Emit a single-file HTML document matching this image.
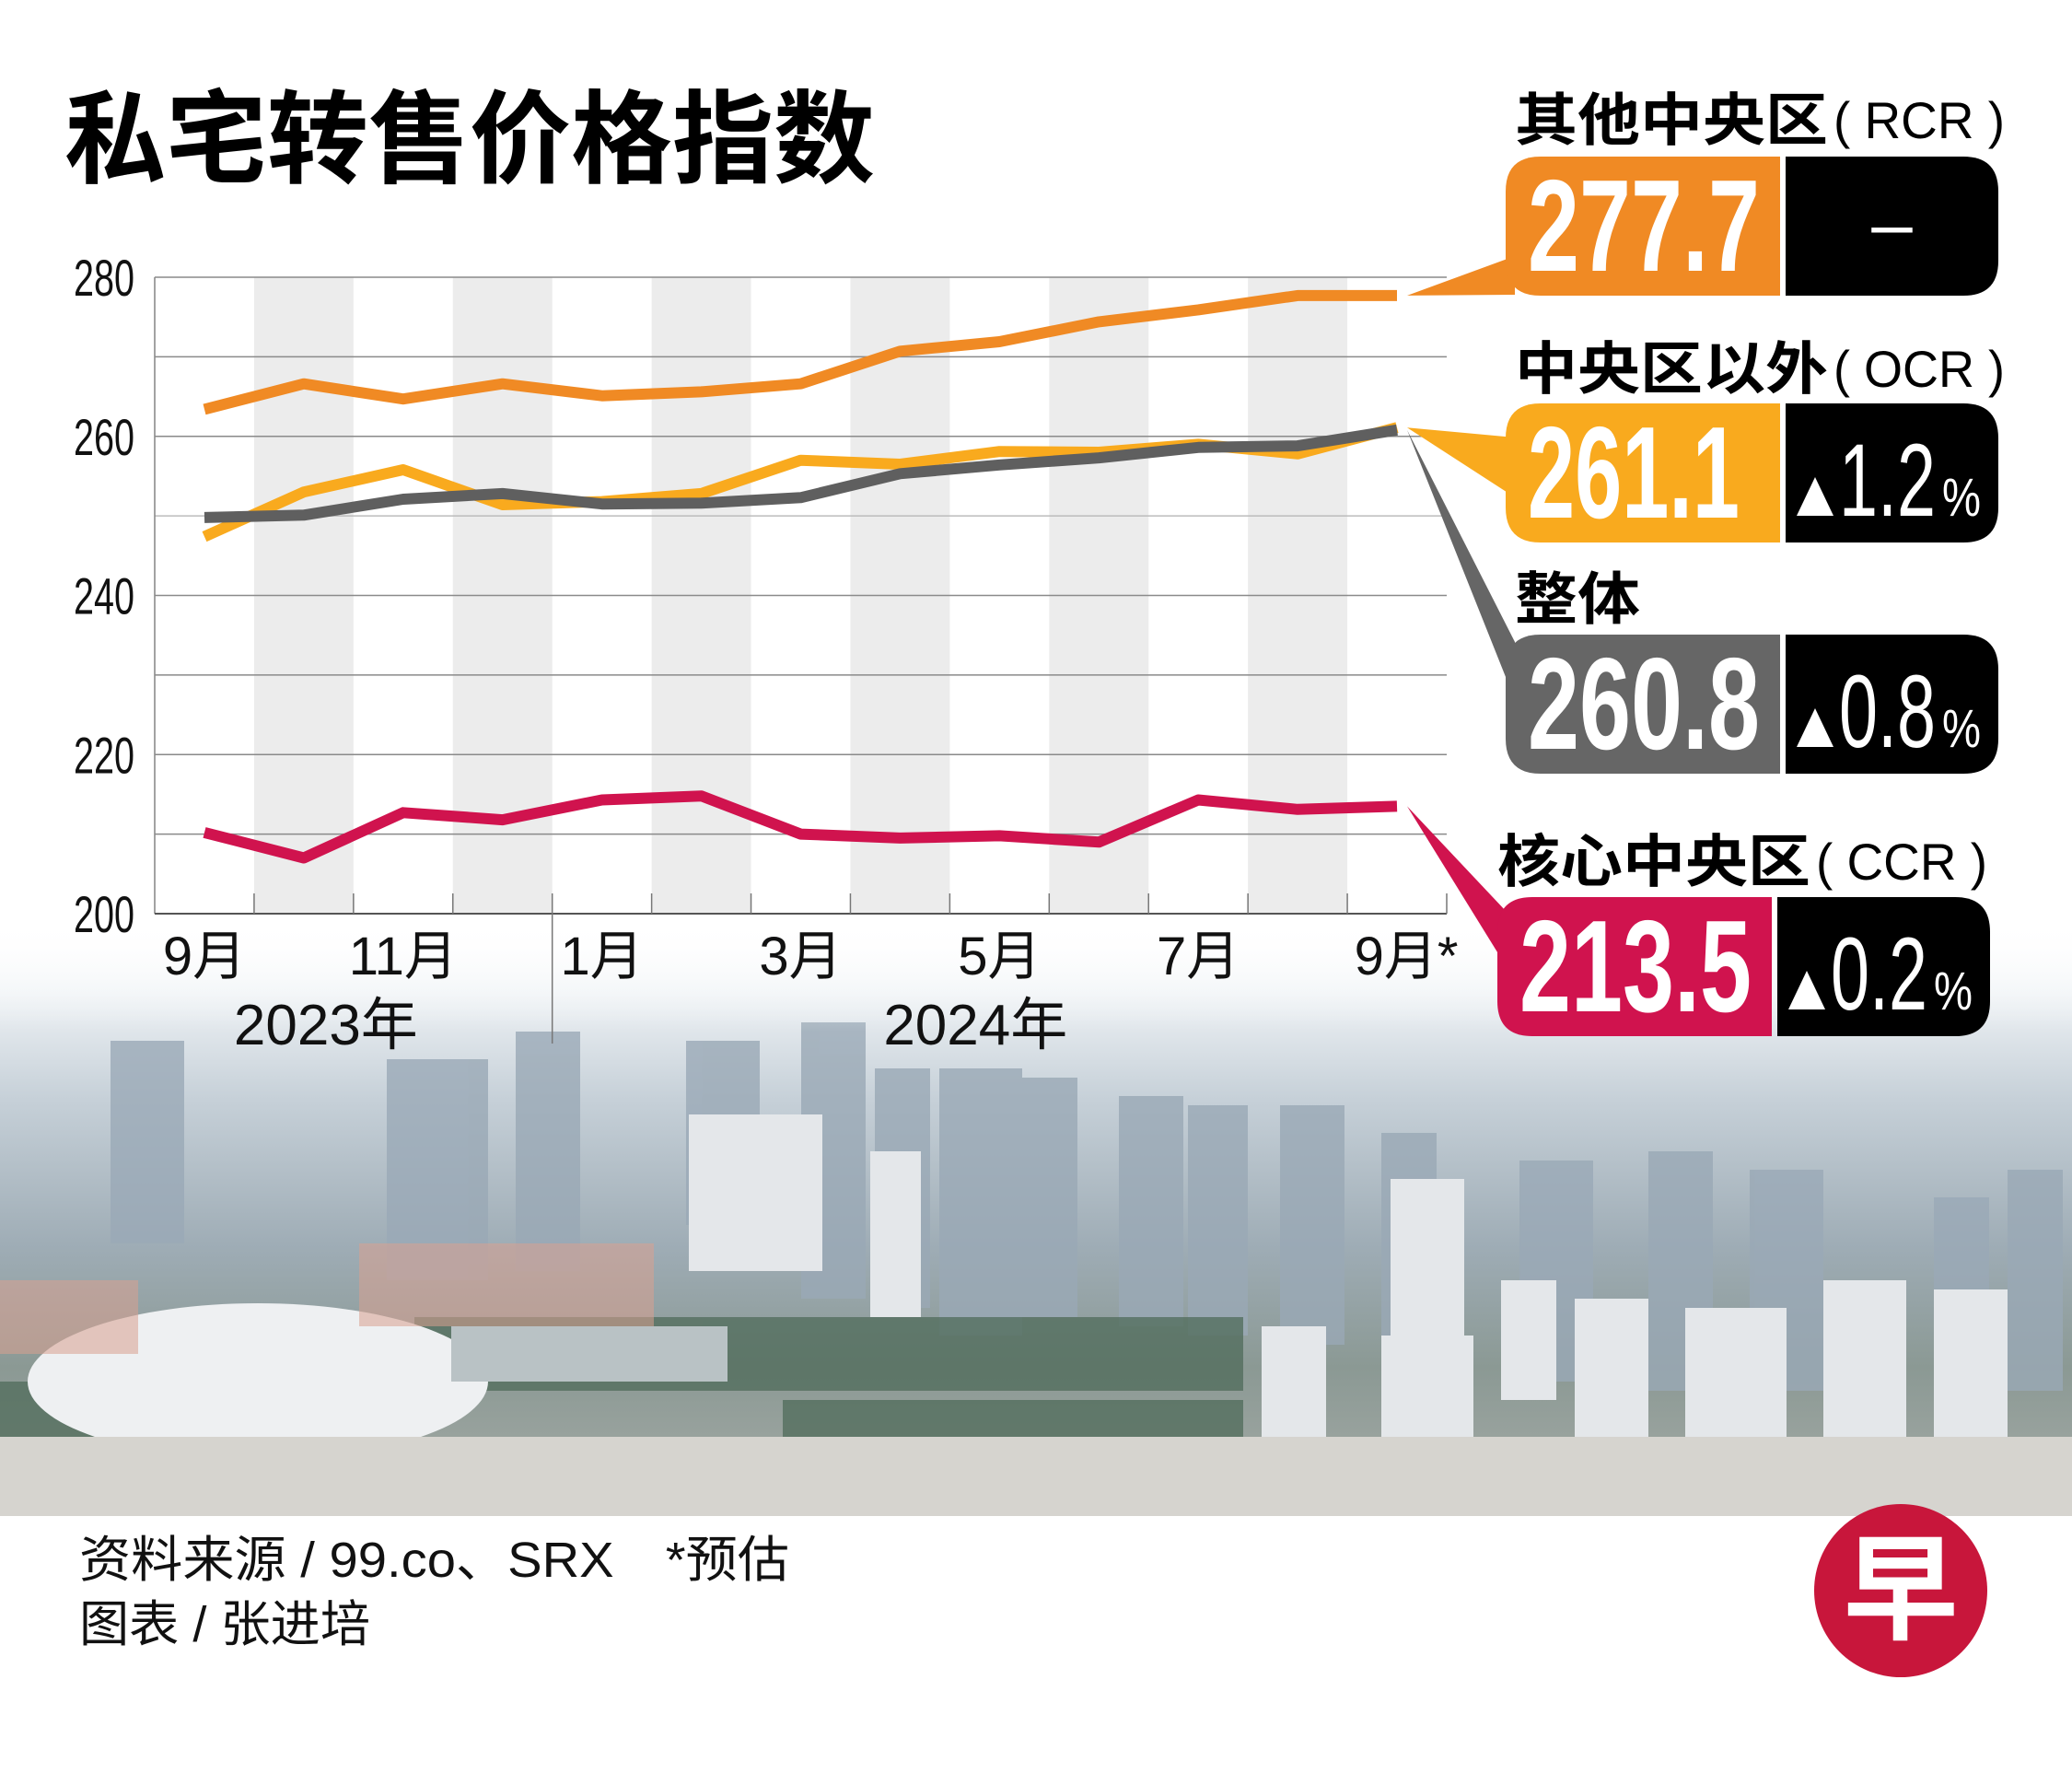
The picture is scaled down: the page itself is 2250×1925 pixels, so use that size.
<!DOCTYPE html>
<html><head><meta charset="utf-8">
<style>
html,body{margin:0;padding:0;background:#fff;}
svg{display:block;}
.cj{font-family:"Liberation Sans","Noto Sans CJK SC",sans-serif;}
</style></head>
<body>
<svg id="chart" width="2250" height="1925" viewBox="0 0 2250 1925" xmlns="http://www.w3.org/2000/svg">
<defs>
<linearGradient id="sky" x1="0" y1="0" x2="0" y2="1">
<stop offset="0" stop-color="#ffffff"/>
<stop offset="0.12" stop-color="#eef2f5"/>
<stop offset="0.3" stop-color="#c6d0d8"/>
<stop offset="0.55" stop-color="#9eacb5"/>
<stop offset="0.75" stop-color="#8b9994"/>
<stop offset="1" stop-color="#a7aca8"/>
</linearGradient>
<linearGradient id="fade" x1="0" y1="0" x2="0" y2="1">
<stop offset="0" stop-color="#fff" stop-opacity="1"/>
<stop offset="1" stop-color="#fff" stop-opacity="0"/>
</linearGradient>
</defs>
<rect width="2250" height="1925" fill="#fff"/>
<g id="photo">
<rect x="0" y="1000" width="2250" height="646" fill="url(#sky)"/>
<g fill="#9aa9b6" opacity="0.8">
<rect x="120" y="1130" width="80" height="220"/><rect x="420" y="1150" width="110" height="240"/><rect x="560" y="1120" width="70" height="260"/>
<rect x="745" y="1130" width="80" height="200"/><rect x="870" y="1110" width="70" height="300"/><rect x="950" y="1160" width="60" height="260"/>
<rect x="1020" y="1160" width="90" height="290"/><rect x="1110" y="1170" width="60" height="260"/><rect x="1215" y="1190" width="70" height="250"/>
<rect x="1290" y="1200" width="65" height="250"/><rect x="1390" y="1200" width="70" height="260"/><rect x="1500" y="1230" width="60" height="240"/>
<rect x="1650" y="1260" width="80" height="240"/><rect x="1790" y="1250" width="70" height="260"/><rect x="1900" y="1270" width="80" height="240"/>
<rect x="2100" y="1300" width="60" height="220"/><rect x="2180" y="1270" width="60" height="240"/>
</g>
<g fill="#e4e7ea">
<rect x="748" y="1210" width="145" height="170"/><rect x="945" y="1250" width="55" height="180"/><rect x="1510" y="1280" width="80" height="170"/>
<rect x="1630" y="1390" width="60" height="130"/><rect x="1710" y="1410" width="80" height="150"/><rect x="1830" y="1420" width="110" height="140"/>
<rect x="1370" y="1440" width="70" height="160"/><rect x="1500" y="1450" width="100" height="160"/><rect x="1980" y="1390" width="90" height="180"/>
<rect x="2100" y="1400" width="80" height="190"/>
</g>
<g fill="#4f6b5a" opacity="0.75">
<rect x="450" y="1430" width="900" height="80"/><rect x="0" y="1500" width="300" height="60"/><rect x="850" y="1520" width="500" height="70"/>
</g>
<ellipse cx="280" cy="1500" rx="250" ry="85" fill="#eef0f2"/>
<rect x="490" y="1440" width="300" height="60" fill="#b9c2c5"/>
<rect x="0" y="1560" width="2250" height="86" fill="#d6d4cf"/>
<g fill="#d9a090" opacity="0.55"><rect x="390" y="1350" width="320" height="90"/><rect x="0" y="1390" width="150" height="80"/></g>
<rect x="0" y="1000" width="2250" height="120" fill="url(#fade)"/>
</g>
<text x="70" y="190" class="cj" font-size="110" font-weight="bold" fill="#000" textLength="880" lengthAdjust="spacingAndGlyphs">私宅转售价格指数</text>
<g id="plot"></g>
<g id="panels"></g>
<text x="86" y="1712" class="cj" font-size="54" fill="#111" textLength="771" lengthAdjust="spacingAndGlyphs">资料来源 / 99.co、SRX　*预估</text>
<text x="86" y="1782" class="cj" font-size="54" fill="#111" textLength="316" lengthAdjust="spacingAndGlyphs">图表 / 张进培</text>
<g>
<circle cx="2064" cy="1727" r="94" fill="#c8163b"/>
<text x="2064" y="1770" text-anchor="middle" class="cj" font-size="125" font-weight="bold" fill="#fff">早</text>
</g>
</svg>
<script>
const months = ["9月","10月","11月","12月","1月","2月","3月","4月","5月","6月","7月","8月","9月*"];
const rcrValues = [263.4,266.6,264.7,266.6,265.1,265.6,266.6,270.7,271.9,274.4,275.9,277.7,277.7];
const ocrValues = [247.4,253.0,255.8,251.4,251.8,252.8,257.0,256.5,258.1,258.0,259.0,257.8,261.1];
const overallValues = [249.8,250.1,252.1,252.8,251.5,251.6,252.3,255.3,256.4,257.3,258.6,258.8,260.8];
const ccrValues = [210.2,207.0,212.7,211.8,214.3,214.8,210.0,209.5,209.8,209.0,214.3,213.1,213.5];
const yTicks = [200,220,240,260,280];
const yGrid = [200,210,220,230,240,250,260,270,280];
const years = ["2023年","2024年"];
const panelNames = ["其他中央区","中央区以外","整体","核心中央区"];
const panelCodes = ["( RCR )","( OCR )","","( CCR )"];
const panelValues = ["277.7","261.1","260.8","213.5"];
const panelChanges = ["–","1.2","0.8","0.2"];

const NS="http://www.w3.org/2000/svg";
const X0=168,X1=1571,Y0=992,Y1=301,YMIN=200,YMAX=280;
const colW=(X1-X0)/13;
function xs(i){return X0+colW*(i+0.5);}
function ys(v){return Y0-(v-YMIN)/(YMAX-YMIN)*(Y0-Y1);}
function mk(tag,attrs,parent){const e=document.createElementNS(NS,tag);for(const k in attrs)e.setAttribute(k,attrs[k]);parent.appendChild(e);return e;}
const plot=document.getElementById('plot');
for(let i=1;i<months.length;i+=2){
  const r=mk('rect',{x:X0+colW*i,y:Y1,width:colW,height:Y0-Y1,fill:'#ececec'},plot);
  
  
}
yGrid.forEach(v=>{
  const l=mk('line',{x1:X0,x2:X1,y1:ys(v),y2:ys(v),stroke:v===250?'#bdbdbd':'#8a8a8a','stroke-width':1.6},plot);
  
  
});
const ax=mk('line',{x1:X0,x2:X0,y1:Y1,y2:Y0,stroke:'#8a8a8a','stroke-width':1.6},plot);


const bx=mk('line',{x1:X0,x2:X1,y1:Y0,y2:Y0,stroke:'#555','stroke-width':2},plot);


for(let i=1;i<=13;i++){
  const t=mk('line',{x1:X0+colW*i,x2:X0+colW*i,y1:Y0-22,y2:Y0,stroke:'#777','stroke-width':1.5},plot);
  
  
}
const sep=mk('line',{x1:X0+colW*4,x2:X0+colW*4,y1:Y0,y2:1133,stroke:'#777','stroke-width':1.5},plot);


yTicks.forEach(v=>{
  const t=mk('text',{x:146,y:ys(v)+20,'text-anchor':'end','font-size':56,fill:'#111','font-family':'Liberation Sans, sans-serif',textLength:66,lengthAdjust:'spacingAndGlyphs'},plot);
  t.textContent=v;
  
  
});
months.forEach((m,i)=>{
  if(i%2)return;
  const t=mk('text',{x:xs(i)+(m.endsWith('*')?10:0),y:1058,'text-anchor':'middle','font-size':58,fill:'#111','font-family':'Liberation Sans, Noto Sans CJK SC, sans-serif'},plot);
  t.textContent=m;
  
  
});
years.forEach((y,k)=>{
  const cx=k===0?(xs(1)+xs(2))/2-30:(xs(8)+xs(9))/2-80;
  const t=mk('text',{x:cx,y:1134,'text-anchor':'middle','font-size':62,fill:'#111','font-family':'Liberation Sans, Noto Sans CJK SC, sans-serif'},plot);
  t.textContent=y;
  
  
});
function series(vals,color,name){
  const d=vals.map((v,i)=>(i?'L':'M')+xs(i).toFixed(1)+' '+ys(v).toFixed(1)).join(' ');
  const p=mk('path',{d:d,fill:'none',stroke:color,'stroke-width':12,'stroke-linejoin':'round'},plot);
  
  
}
series(rcrValues,'#f08a24','rcr-line');
series(ocrValues,'#f9aa1e','ocr-line');
series(overallValues,'#5f5f5f','overall-line');
series(ccrValues,'#d0134e','ccr-line');

const panels=document.getElementById('panels');
const colors=['#f08a24','#f9aa1e','#666666','#d0134e'];
const last=[rcrValues[12],ocrValues[12],overallValues[12],ccrValues[12]];
const labelY=[152,422,672,957];
const boxY=[170,438,689,974];
const boxX=[1635,1635,1635,1626];
const tipOff=[[278,320],[475,540],[697,760],[990,1050]];
panelNames.forEach((n,k)=>{
  const g=mk('g',{},panels);
  
  
  const bxX=boxX[k],by=boxY[k],h=151,cw=298,bw=231,r=38;
  const tipY=ys(last[k]);
  const tri=mk('polygon',{points:`${1528},${tipY} ${bxX+10},${tipOff[k][0]} ${bxX+10},${tipOff[k][1]}`,fill:colors[k]},g);
  
  
  const lx=bxX+(k===3?0:10);
  const lab=mk('text',{x:lx,y:labelY[k],'font-size':62,'font-weight':'bold',fill:'#000','font-family':'Liberation Sans, Noto Sans CJK SC, sans-serif',textLength:n.length*68,lengthAdjust:'spacingAndGlyphs'},g);
  lab.textContent=n;
  
  
  if(panelCodes[k]){
    const c=mk('text',{x:lx+n.length*68+6,y:labelY[k]-2,'font-size':56,fill:'#000','font-family':'Liberation Sans, sans-serif',textLength:186,lengthAdjust:'spacingAndGlyphs'},g);
    c.textContent=panelCodes[k];
    
    
  }
  const cb=mk('path',{d:`M${bxX+r},${by} H${bxX+cw} V${by+h} H${bxX+r} Q${bxX},${by+h} ${bxX},${by+h-r} V${by+r} Q${bxX},${by} ${bxX+r},${by} Z`,fill:colors[k]},g);
  
  
  const kx=bxX+cw+6;
  const kb=mk('path',{d:`M${kx},${by} H${kx+bw-r} Q${kx+bw},${by} ${kx+bw},${by+r} V${by+h-r} Q${kx+bw},${by+h} ${kx+bw-r},${by+h} H${kx} Z`,fill:'#000'},g);
  
  
  const v=mk('text',{x:bxX+24,y:by+124,'font-size':142,'font-weight':'bold',fill:'#fff','font-family':'Liberation Sans, sans-serif',textLength:k===1?230:252,lengthAdjust:'spacingAndGlyphs'},g);
  v.textContent=panelValues[k];
  
  
  if(k===0){
    const d=mk('text',{x:kx+bw/2,y:by+100,'text-anchor':'middle','font-size':80,fill:'#fff','font-family':'Liberation Sans, sans-serif'},g);
    d.textContent='–';
    
    
  } else {
    const ty=by+122;
    const tr=mk('polygon',{points:`${kx+12},${ty} ${kx+52},${ty} ${kx+32},${ty-42}`,fill:'#fff'},g);
    
    
    const d=mk('text',{x:kx+58,y:ty,'font-size':112,fill:'#fff','font-family':'Liberation Sans, sans-serif',textLength:105,lengthAdjust:'spacingAndGlyphs'},g);
    d.textContent=panelChanges[k];
    
    
    const pc=mk('text',{x:kx+170,y:ty,'font-size':58,fill:'#fff','font-family':'Liberation Sans, sans-serif',textLength:42,lengthAdjust:'spacingAndGlyphs'},g);
    pc.textContent='%';
    
    
  }
});
</script>
</body></html>
